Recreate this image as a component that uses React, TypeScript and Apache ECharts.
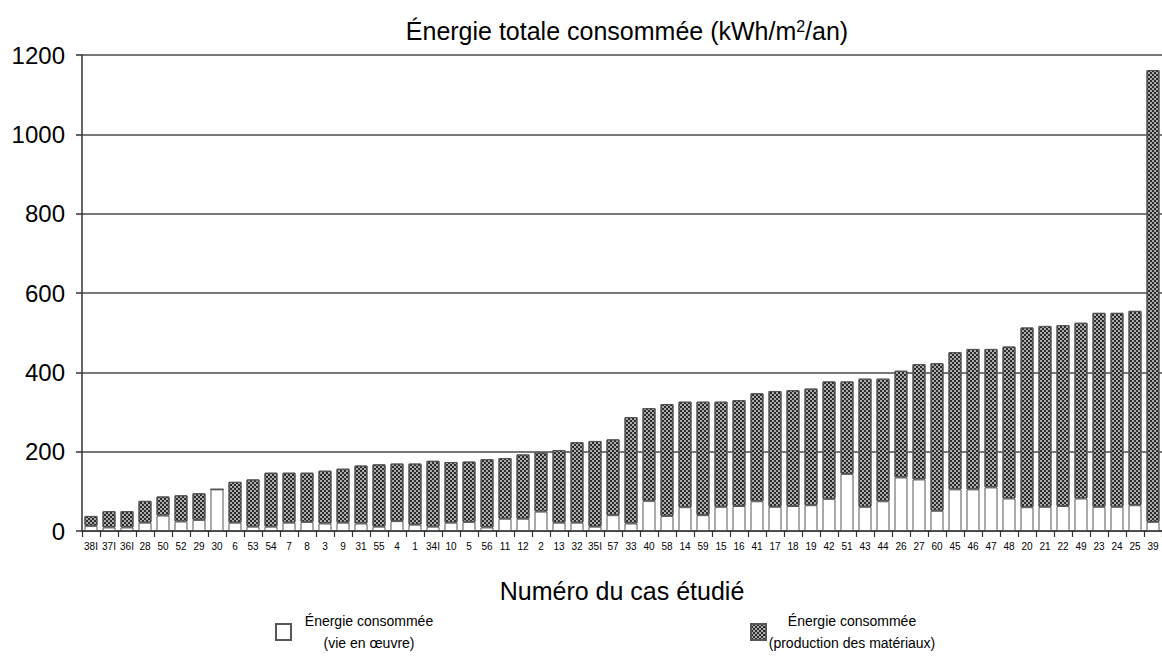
import React, { useEffect, useRef } from 'react';
import * as echarts from 'echarts';

const categories = [
  '38I', '37I', '36I', '28', '50', '52', '29', '30', '6', '53',
  '54', '7', '8', '3', '9', '31', '55', '4', '1', '34I',
  '10', '5', '56', '11', '12', '2', '13', '32', '35I', '57',
  '33', '40', '58', '14', '59', '15', '16', '41', '17', '18',
  '19', '42', '51', '43', '44', '26', '27', '60', '45', '46',
  '47', '48', '20', '21', '22', '49', '23', '24', '25', '39',
];

const vieEnOeuvre = [
  13, 9, 9, 21, 39, 24, 28, 105, 21, 11,
  11, 21, 23, 19, 21, 19, 11, 25, 16, 11,
  21, 23, 9, 31, 31, 49, 21, 21, 11, 40,
  19, 76, 38, 60, 40, 61, 63, 75, 61, 63,
  65, 81, 144, 61, 75, 135, 130, 51, 105, 105,
  110, 82, 60, 61, 63, 82, 61, 61, 65, 23,
];

const productionMateriaux = [
  25, 41, 41, 55, 48, 66, 67, 0, 103, 119,
  136, 126, 124, 133, 136, 146, 157, 145, 154, 166,
  153, 152, 172, 153, 162, 149, 183, 203, 216, 191,
  268, 234, 282, 266, 286, 265, 267, 272, 292, 292,
  294, 296, 233, 323, 309, 269, 291, 372, 346, 354,
  349, 383, 453, 456, 456, 443, 489, 489, 490, 1139,
];

const seriesNames = ['vie', 'prod'];
const legendLines: Record<string, string[]> = {
  vie: ['Énergie consommée', '(vie en œuvre)'],
  prod: ['Énergie consommée', '(production des matériaux)'],
};

const FONT = '"Liberation Sans", Arial, sans-serif';

export default function App() {
  const ref = useRef<HTMLDivElement>(null);
  useEffect(() => {
    if (!ref.current) return;
    const chart = echarts.init(ref.current, undefined, { renderer: 'svg' });
    chart.setOption({
      animation: false,
      backgroundColor: '#fff',
      textStyle: { fontFamily: FONT },
      title: {
        text: 'Énergie totale consommée (kWh/m{sup|2}/an)',
        left: 622,
        textAlign: 'center',
        top: 13,
        textStyle: {
          fontFamily: FONT,
          fontSize: 25,
          fontWeight: 'normal',
          color: '#000',
          rich: {
            sup: { fontSize: 16, verticalAlign: 'top', fontFamily: FONT, color: '#000', padding: [0, 0, 9, 0] },
          },
        },
      },
      grid: { left: 82, right: 0, top: 55, bottom: 135, containLabel: false },
      legend: {
        data: seriesNames,
        left: 275,
        top: 614,
        padding: 0,
        itemGap: 308,
        itemWidth: 15,
        itemHeight: 16,
        icon: 'rect',
        selectedMode: false,
        formatter: (name: string) => {
          const key = name === 'vie' ? 'a' : 'b';
          return legendLines[name].map((l) => `{${key}|${l}}`).join('\n');
        },
        textStyle: {
          fontFamily: FONT,
          fontSize: 14,
          color: '#000',
          rich: {
            a: { width: 146, align: 'center', fontSize: 14, lineHeight: 22, fontFamily: FONT, color: '#000' },
            b: { width: 162, align: 'center', fontSize: 14, lineHeight: 22, fontFamily: FONT, color: '#000' },
          },
        },
      },
      xAxis: {
        type: 'category',
        data: categories,
        name: 'Numéro du cas étudié',
        nameLocation: 'middle',
        nameGap: 47,
        nameTextStyle: { fontFamily: FONT, fontSize: 25, color: '#000' },
        axisLine: { lineStyle: { color: '#333', width: 1.5 } },
        axisTick: { show: true, length: 6, lineStyle: { color: '#333', width: 1.2 } },
        axisLabel: {
          show: true,
          interval: 0,
          fontSize: 10,
          color: '#000',
          margin: 10,
          fontFamily: FONT,
        },
      },
      yAxis: {
        type: 'value',
        min: 0,
        max: 1200,
        interval: 200,
        axisLine: { show: true, lineStyle: { color: '#333', width: 1.5 } },
        axisTick: { show: true, length: 6, lineStyle: { color: '#333', width: 1.5 } },
        axisLabel: {
          fontSize: 24,
          color: '#000',
          margin: 17,
          fontFamily: FONT,
          formatter: (v: number) => String(v),
        },
        splitLine: { show: true, lineStyle: { color: '#4a4a4a', width: 1.5 } },
      },
      series: [
        {
          name: 'vie',
          type: 'bar',
          stack: 'total',
          data: vieEnOeuvre,
          barWidth: 13,
          itemStyle: { color: '#fff', borderColor: '#555', borderWidth: 1 },
        },
        {
          name: 'prod',
          type: 'bar',
          stack: 'total',
          data: productionMateriaux,
          barWidth: 13,
          itemStyle: {
            color: '#acacac',
            borderColor: '#555',
            borderWidth: 1,
            decal: {
              symbol: 'rect',
              symbolSize: 1,
              color: '#2c2c2c',
              dashArrayX: [[2, 2], [0, 2, 2, 0]],
              dashArrayY: [2, 0],
            },
          },
        },
      ],
    });
    return () => chart.dispose();
  }, []);
  return (
    <div
      ref={ref}
      style={{ position: 'fixed', left: 0, top: 0, width: 1162, height: 666, background: '#fff' }}
    />
  );
}
